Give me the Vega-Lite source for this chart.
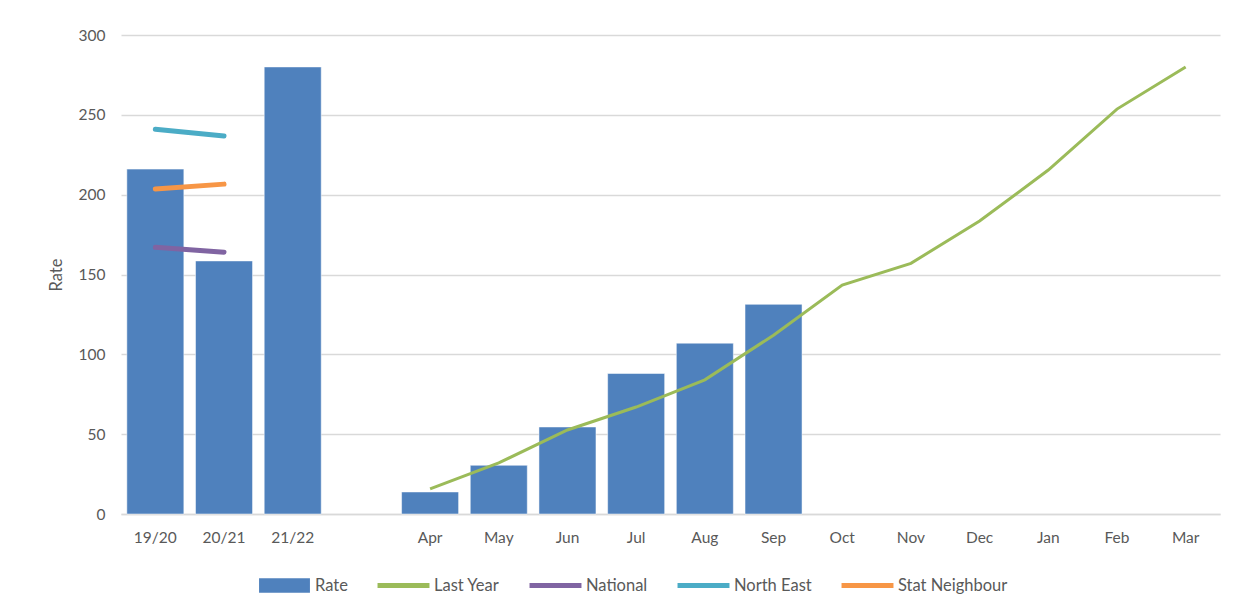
{
  "$schema": "https://vega.github.io/schema/vega-lite/v6.json",
  "width": 1099,
  "height": 479,
  "autosize": {"type": "none"},
  "padding": {"left": 121, "top": 35, "right": 38, "bottom": 101},
  "background": "white",
  "config": {
    "font": "Lato",
    "view": {"stroke": null},
    "axis": {"labelFont": "Lato", "titleFont": "Lato", "labelColor": "#595959", "titleColor": "#595959", "labelFontSize": 15.5, "titleFontSize": 16.5, "titleFontWeight": "normal"}
  },
  "data": {
    "values": [
      {"cat": "19/20", "series": "Rate", "value": 216},
      {"cat": "20/21", "series": "Rate", "value": 158.5},
      {"cat": "21/22", "series": "Rate", "value": 280},
      {"cat": "Apr", "series": "Rate", "value": 13.8},
      {"cat": "May", "series": "Rate", "value": 30.5},
      {"cat": "Jun", "series": "Rate", "value": 54.5},
      {"cat": "Jul", "series": "Rate", "value": 88},
      {"cat": "Aug", "series": "Rate", "value": 107},
      {"cat": "Sep", "series": "Rate", "value": 131.3},
      {"cat": "Apr", "series": "Last Year", "value": 15.7},
      {"cat": "May", "series": "Last Year", "value": 32},
      {"cat": "Jun", "series": "Last Year", "value": 52.6},
      {"cat": "Jul", "series": "Last Year", "value": 67},
      {"cat": "Aug", "series": "Last Year", "value": 84},
      {"cat": "Sep", "series": "Last Year", "value": 112},
      {"cat": "Oct", "series": "Last Year", "value": 143.4},
      {"cat": "Nov", "series": "Last Year", "value": 157},
      {"cat": "Dec", "series": "Last Year", "value": 183.5},
      {"cat": "Jan", "series": "Last Year", "value": 215.4},
      {"cat": "Feb", "series": "Last Year", "value": 253.6},
      {"cat": "Mar", "series": "Last Year", "value": 280},
      {"cat": "19/20", "series": "National", "value": 167},
      {"cat": "20/21", "series": "National", "value": 164},
      {"cat": "19/20", "series": "North East", "value": 241},
      {"cat": "20/21", "series": "North East", "value": 236.7},
      {"cat": "19/20", "series": "Stat Neighbour", "value": 203.5},
      {"cat": "20/21", "series": "Stat Neighbour", "value": 206.6}
    ]
  },
  "encoding": {
    "x": {
      "field": "cat", "type": "nominal", "title": null,
      "scale": {"domain": ["19/20", "20/21", "21/22", " ", "Apr", "May", "Jun", "Jul", "Aug", "Sep", "Oct", "Nov", "Dec", "Jan", "Feb", "Mar"], "paddingInner": 0.17, "paddingOuter": 0.085},
      "axis": {"labelAngle": 0, "ticks": false, "domainColor": "#d9d9d9", "domainWidth": 1.5, "labelPadding": 16}
    },
    "y": {
      "field": "value", "type": "quantitative", "title": "Rate",
      "scale": {"domain": [0, 300], "nice": false},
      "axis": {"values": [0, 50, 100, 150, 200, 250, 300], "ticks": false, "domain": false, "gridColor": "#d9d9d9", "gridWidth": 1.5, "labelPadding": 16, "titlePadding": 14}
    },
    "color": {
      "field": "series", "type": "nominal",
      "scale": {"domain": ["Rate", "Last Year", "National", "North East", "Stat Neighbour"], "range": ["#4f81bd", "#9bbb59", "#8064a2", "#4bacc6", "#f79646"]},
      "legend": {
        "title": null, "orient": "none", "direction": "horizontal", "legendX": 137, "legendY": 524,
        "labelFont": "Lato", "labelFontSize": 16.5, "labelColor": "#595959", "labelOffset": 4,
        "columnPadding": 29, "symbolSize": 2809, "symbolStrokeWidth": 0,
        "encode": {
          "symbols": {"update": {
            "shape": {"signal": "datum.value === 'Rate' ? 'M-0.96,-0.27L0.96,-0.27L0.96,0.27L-0.96,0.27Z' : 'M-0.98,-0.09L0.98,-0.09L0.98,0.09L-0.98,0.09Z'"},
            "fill": {"scale": "color", "field": "value"},
            "fillOpacity": {"value": 1},
            "strokeWidth": {"value": 0}
          }}
        }
      }
    }
  },
  "layer": [
    {
      "transform": [{"filter": "datum.series === 'Rate'"}],
      "mark": {"type": "bar", "stroke": "white", "strokeWidth": 0.5}
    },
    {
      "transform": [{"filter": "datum.series === 'Last Year'"}],
      "mark": {"type": "line", "strokeWidth": 3}
    },
    {
      "transform": [{"filter": "datum.series !== 'Rate' && datum.series !== 'Last Year'"}],
      "mark": {"type": "line", "strokeWidth": 5, "strokeCap": "round"},
      "encoding": {"detail": {"field": "series"}}
    }
  ]
}
